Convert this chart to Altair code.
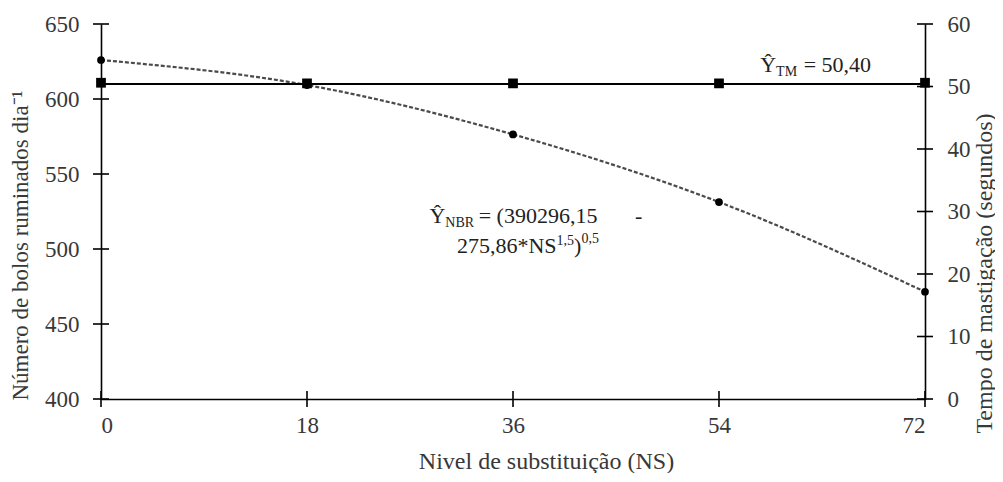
import altair as alt
import pandas as pd

# ---- data ----
ns = [0, 18, 36, 54, 72]
nbr = [626.0, 609.3, 576.4, 531.3, 471.5]          # Número de bolos ruminados dia-1 (left axis)
tm = [50.6, 50.5, 50.5, 50.5, 50.6]                # Tempo de mastigação (right axis)
tm_mean = [50.40, 50.40]
tm_mean_x = [0, 72]

x_ticks = [0, 18, 36, 54, 72]
yl_ticks = [400, 450, 500, 550, 600, 650]
yr_ticks = [0, 10, 20, 30, 40, 50, 60]

FONT = "Liberation Serif, 'Times New Roman', Times, serif"
TXT = "#383838"

df_nbr = pd.DataFrame({"ns": ns, "nbr": nbr})
df_tm = pd.DataFrame({"ns": ns, "tm": tm})
df_tm_line = pd.DataFrame({"ns": tm_mean_x, "tm": tm_mean})
df_xt = pd.DataFrame({"v": x_ticks})
df_ylt = pd.DataFrame({"v": yl_ticks})
df_yrt = pd.DataFrame({"v": yr_ticks})
one = pd.DataFrame({"d": [0]})

XS = alt.Scale(domain=[0, 72], nice=False, zero=False)
YLS = alt.Scale(domain=[400, 650], nice=False, zero=False)
YRS = alt.Scale(domain=[0, 60], nice=False, zero=False)

XA = alt.Axis(values=x_ticks, title="Nivel de substituição (NS)", labelPadding=15,
              titleX=445, titleY=69, titleBaseline="alphabetic", titleFontSize=24)
YLA = alt.Axis(values=yl_ticks, title="Número de bolos ruminados dia⁻¹", labelPadding=22,
               titleX=-81, titleY=221, titleBaseline="middle", titleAngle=-90)
YRA = alt.Axis(values=yr_ticks, title="Tempo de mastigação (segundos)", labelPadding=22,
               titleX=59, titleY=249, titleBaseline="middle", titleAngle=-90,
               titleFontSize=24)


def xf(field):
    return alt.X(field, type="quantitative", scale=XS, axis=XA)


def xd(v):
    return alt.XDatum(v, type="quantitative", scale=XS, axis=XA)


def ann(s, x, y, size, **kw):
    return alt.Chart(one).mark_text(text=s, font=FONT, fontSize=size, color="#222",
                                    align="left", baseline="alphabetic", **kw).encode(
        x=xd(x),
        y=alt.YDatum(y, type="quantitative", scale=YLS, axis=YLA),
    )


# ---- left-axis layers ----
nbr_line = alt.Chart(df_nbr).mark_line(color="#4a4a4a", strokeWidth=2.2, strokeDash=[4, 2],
                                       interpolate="monotone").encode(
    x=xf("ns"), y=alt.Y("nbr", type="quantitative", scale=YLS, axis=YLA))
nbr_pts = alt.Chart(df_nbr).mark_point(shape="circle", filled=True, color="black", size=60,
                                       opacity=1).encode(
    x=xf("ns"), y=alt.Y("nbr", type="quantitative", scale=YLS, axis=YLA))

yl_tick_marks = alt.Chart(df_ylt).mark_tick(orient="horizontal", size=16, thickness=1.6,
                                             color="black", opacity=1).encode(
    x=xd(0), y=alt.Y("v", type="quantitative", scale=YLS, axis=YLA))
x_tick_marks = alt.Chart(df_xt).mark_tick(orient="vertical", size=16, thickness=1.6,
                                           color="black", opacity=1).encode(
    x=xf("v"), y=alt.YDatum(400, type="quantitative", scale=YLS, axis=YLA))

texts = [
    # Ŷ_TM = 50,40
    ann("Ŷ", 57.6, 618.0, 22),
    ann("TM", 58.99, 615.3, 14),
    ann("= 50,40", 61.4, 618.0, 22),
    # Ŷ_NBR = (390296,15 - 275,86*NS^1,5)^0,5
    ann("Ŷ", 28.7, 517.3, 22),
    ann("NBR", 30.09, 514.7, 14),
    ann("= (390296,15", 33.0, 517.3, 22),
    ann("-", 46.66, 517.3, 22),
    ann("275,86*NS", 31.10, 497.3, 22),
    ann("1,5", 39.80, 502.7, 14),
    ann(")", 41.33, 497.3, 22),
    ann("0,5", 41.98, 504.0, 14),
]

left = alt.layer(nbr_line, nbr_pts, yl_tick_marks, x_tick_marks, *texts)

# ---- right-axis layers ----
tm_line = alt.Chart(df_tm_line).mark_line(color="black", strokeWidth=2).encode(
    x=xf("ns"), y=alt.Y("tm", type="quantitative", scale=YRS, axis=YRA))
tm_pts = alt.Chart(df_tm).mark_point(shape="square", filled=True, color="black", size=95,
                                     opacity=1).encode(
    x=xf("ns"), y=alt.Y("tm", type="quantitative", scale=YRS, axis=YRA))
yr_tick_marks = alt.Chart(df_yrt).mark_tick(orient="horizontal", size=16, thickness=1.6,
                                             color="black", opacity=1).encode(
    x=xd(72), y=alt.Y("v", type="quantitative", scale=YRS, axis=YRA))

right = alt.layer(tm_line, tm_pts, yr_tick_marks)

chart = alt.layer(left, right).resolve_scale(y="independent").properties(
    width=824, height=375,
    autosize=alt.AutoSizeParams(type="none"),
    padding={"left": 93, "top": 16, "right": 70, "bottom": 74},
    background="white",
).configure_view(strokeWidth=0).configure_axis(
    ticks=False, grid=False, domainColor="black", domainWidth=1.6,
    labelFont=FONT, labelFontSize=23, labelColor=TXT,
    titleFont=FONT, titleFontSize=23, titleColor=TXT, titleFontWeight="normal",
)

chart.save("out.html", embed_options={"renderer": "svg", "actions": False})
